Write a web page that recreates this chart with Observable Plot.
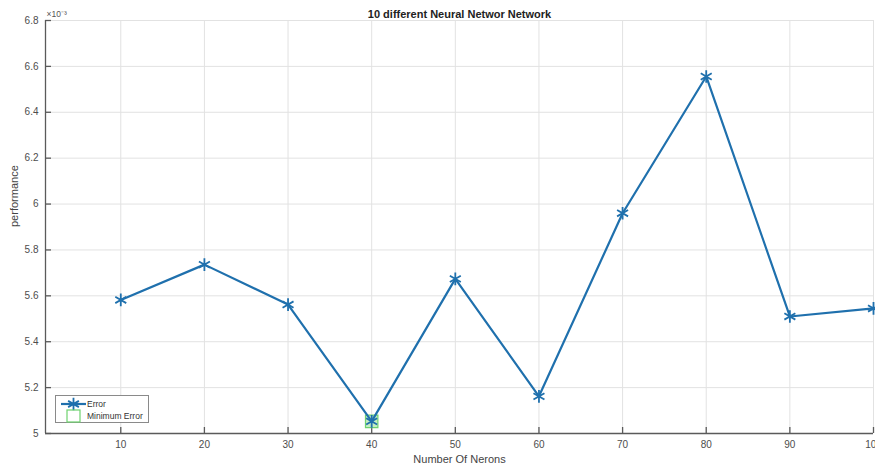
<!DOCTYPE html>
<html>
<head>
<meta charset="utf-8">
<script src="https://cdn.jsdelivr.net/npm/d3@7"></script>
<script src="https://cdn.jsdelivr.net/npm/@observablehq/plot@0.6"></script>
<style>
  html, body { margin: 0; padding: 0; background: #fff; overflow: hidden; }
  #wrap { position: relative; width: 875px; height: 471px; font-family: "Liberation Sans", Arial, sans-serif; }
  #legend { position: absolute; left: 55px; top: 395px; width: 94px; height: 28px; border: 1px solid #8a8a8a; background: #fff; box-sizing: border-box; }
</style>
</head>
<body>
<div id="wrap"></div>
<script>
// ---- data ----
const neurons = [10, 20, 30, 40, 50, 60, 70, 80, 90, 100];
const performance = [0.005582, 0.005736, 0.005562, 0.005053, 0.005674, 0.005162, 0.005960, 0.006556, 0.005510, 0.005545];
const xTicks = [10, 20, 30, 40, 50, 60, 70, 80, 90, 100];
const yTicks = [5, 5.2, 5.4, 5.6, 5.8, 6, 6.2, 6.4, 6.6, 6.8]; // in units of 1e-3
const xDomain = [1, 100];
const yDomain = [5, 6.8]; // in units of 1e-3
const yScaleFactor = 1000; // axis shows ×10^-3
const title = "10 different Neural Networ Network";
const xLabel = "Number Of Nerons";
const yLabel = "performance";
const seriesNames = ["Error", "Minimum Error"];

const rows = neurons.map((n, i) => ({n, p: performance[i]}));
const minRow = [rows[d3.minIndex(rows, d => d.p)]];
const yOf = d => d.p * yScaleFactor;

const blue = "#1f70ad";
const axisColor = "#5a5a5a";
const font = "'Liberation Sans', Arial, sans-serif";

const chart = Plot.plot({
  width: 875,
  height: 471,
  marginLeft: 45,
  marginRight: 2,
  marginTop: 20,
  marginBottom: 38,
  style: {fontFamily: font, fontSize: "10px", color: "#4d4d4d", background: "#fff"},
  x: {domain: xDomain},
  y: {domain: yDomain},
  marks: [
    Plot.gridX(xTicks, {stroke: "#e2e2e2", strokeOpacity: 1}),
    Plot.gridY(yTicks, {stroke: "#e2e2e2", strokeOpacity: 1}),
    Plot.axisX(xTicks, {tickSize: 0, tickPadding: 7, label: null, fill: "#4d4d4d", fontSize: 10}),
    Plot.axisY(yTicks, {tickSize: 0, tickPadding: 7, label: null, tickFormat: d => String(d), fill: "#4d4d4d", fontSize: 10}),
    // axis lines
    Plot.ruleY([yDomain[0]], {stroke: axisColor, strokeWidth: 1.3}),
    Plot.ruleX([xDomain[0]], {stroke: axisColor, strokeWidth: 1.3}),
    // inward ticks
    Plot.ruleX(xTicks, {x: d => d, y1: yDomain[0], y2: yDomain[0], insetTop: -6, stroke: axisColor, strokeWidth: 1.3}),
    Plot.ruleY(yTicks, {y: d => d, x1: xDomain[0], x2: xDomain[0], insetRight: -6, stroke: axisColor, strokeWidth: 1.3}),
    // data
    Plot.dot(minRow, {x: "n", y: yOf, symbol: "square", r: 7, stroke: "#6fd36f", strokeWidth: 1.2, fill: "#9fe39a", fillOpacity: 0.6}),
    Plot.line(rows, {x: "n", y: yOf, stroke: blue, strokeWidth: 2.2}),
    Plot.dot(rows, {x: "n", y: yOf, symbol: "asterisk", r: 6, stroke: blue, strokeWidth: 1.8}),
    // texts
    Plot.text([title], {frameAnchor: "top", dy: -10, text: d => d, fontWeight: "bold", fontSize: 11, fill: "#222"}),
    Plot.text(["×10⁻³"], {frameAnchor: "top-left", dy: -10, dx: 1, textAnchor: "start", text: d => d, fontSize: 8.5, fill: "#555"}),
    Plot.text([xLabel], {frameAnchor: "bottom", dy: 29, text: d => d, fontSize: 11, fill: "#444"}),
    Plot.text([yLabel], {frameAnchor: "left", dx: -31, rotate: -90, text: d => d, fontSize: 11, fill: "#444"})
  ]
});

const wrap = document.getElementById("wrap");
wrap.appendChild(chart);

// legend
const legend = document.createElement("div");
legend.id = "legend";
legend.innerHTML = `
<svg width="94" height="28" style="display:block;font-family:${font}">
  <line x1="5" y1="8" x2="30" y2="8" stroke="${blue}" stroke-width="2.2"/>
  <path d="${d3.symbol(d3.symbolAsterisk, 110)()}" transform="translate(17.5,8)" stroke="${blue}" stroke-width="1.8" fill="none"/>
  <rect x="11" y="14" width="13" height="12" stroke="#6fd36f" stroke-width="1.2" fill="none"/>
  <text x="31" y="11" font-size="8.5" fill="#333">${seriesNames[0]}</text>
  <text x="31" y="23" font-size="8.5" fill="#333">${seriesNames[1]}</text>
</svg>`;
wrap.appendChild(legend);
</script>
</body>
</html>
